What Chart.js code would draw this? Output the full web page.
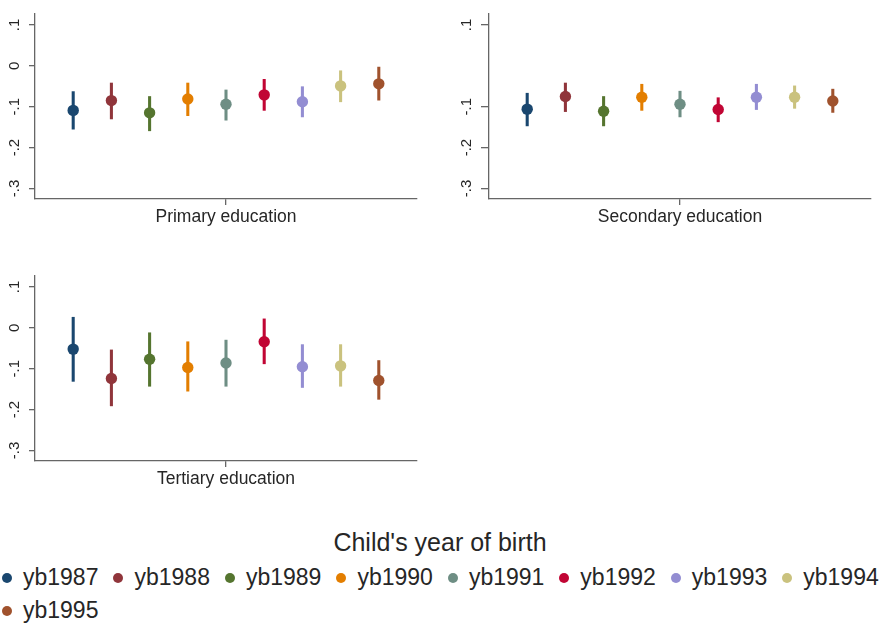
<!DOCTYPE html>
<html>
<head>
<meta charset="utf-8">
<script src="https://cdn.jsdelivr.net/npm/chart.js@4.4.0/dist/chart.umd.min.js"></script>
<style>
  html, body { margin: 0; padding: 0; background: #fff; }
  body { width: 880px; height: 625px; position: relative; overflow: hidden; font-family: "Liberation Sans", Arial, sans-serif; color: #262626; }
  canvas { position: absolute; }
  #legend-title { position: absolute; left: 0; width: 880px; top: 528px; text-align: center; font-size: 25px; line-height: 29px; }
  .legend-row { position: absolute; left: 2px; display: flex; white-space: nowrap; font-size: 23px; line-height: 27px; }
  .legend-item { display: flex; align-items: center; margin-right: 15px; }
  .dot { width: 10px; height: 10px; border-radius: 50%; margin-right: 11px; }
</style>
</head>
<body>
<canvas id="primary" width="440" height="235" style="left:0;top:0"></canvas>
<canvas id="secondary" width="440" height="235" style="left:440px;top:0"></canvas>
<canvas id="tertiary" width="440" height="235" style="left:0;top:262px"></canvas>
<div id="legend-title">Child's year of birth</div>
<div class="legend-row" id="row1" style="top:564px"></div>
<div class="legend-row" id="row2" style="top:597px"></div>

<script>
// ---------- data ----------
const years = ["yb1987", "yb1988", "yb1989", "yb1990", "yb1991", "yb1992", "yb1993", "yb1994", "yb1995"];
const colors = ["#1a476f", "#90353b", "#55752f", "#e37e00", "#6e8e84", "#c10534", "#938dd2", "#cac27e", "#a0522d"];

const primaryEst = [-0.109, -0.085, -0.115, -0.081, -0.094, -0.071, -0.088, -0.049, -0.044];
const primaryLo  = [-0.155, -0.130, -0.159, -0.122, -0.133, -0.109, -0.125, -0.088, -0.084];
const primaryHi  = [-0.063, -0.042, -0.075, -0.042, -0.059, -0.033, -0.051, -0.012, -0.003];

const secondaryEst = [-0.106, -0.075, -0.111, -0.077, -0.094, -0.107, -0.077, -0.077, -0.086];
const secondaryLo  = [-0.147, -0.112, -0.147, -0.109, -0.125, -0.137, -0.107, -0.104, -0.114];
const secondaryHi  = [-0.067, -0.042, -0.075, -0.045, -0.062, -0.078, -0.045, -0.049, -0.057];

const tertiaryEst = [-0.052, -0.124, -0.077, -0.097, -0.086, -0.034, -0.095, -0.093, -0.129];
const tertiaryLo  = [-0.131, -0.191, -0.143, -0.155, -0.143, -0.088, -0.146, -0.143, -0.175];
const tertiaryHi  = [0.026, -0.054, -0.012, -0.034, -0.030, 0.022, -0.041, -0.041, -0.080];

const yTicks = [0.1, 0, -0.1, -0.2, -0.3];
const secondaryYTicks = [0.1, -0.1, -0.2, -0.3]; // the original has no "0" label here

// stata style labels: .1, 0, -.1
const fmt = v => v === 0 ? "0" : v.toFixed(1).replace("0.", ".");

const FONT = "'Liberation Sans', Arial, sans-serif";
const AXIS = "#666";
const TEXT = "#262626";

function makePanel(id, name, est, lo, hi, ticks, axisWidth, tickLen) {
    new Chart(document.getElementById(id), {
        type: "bar",
        data: {
            datasets: [
                {
                    type: "scatter",
                    data: est.map((v, i) => ({ x: i + 1, y: v })),
                    pointRadius: 5.7,
                    pointBackgroundColor: colors,
                    pointBorderWidth: 0
                },
                {
                    type: "bar",
                    data: lo.map((v, i) => ({ x: i + 1, y: [v, hi[i]] })),
                    backgroundColor: colors,
                    barThickness: 2.4,
                    borderWidth: 0
                }
            ]
        },
        options: {
            responsive: false,
            animation: false,
            events: [],
            layout: { padding: { top: 7, right: 440 - axisWidth - 382, left: 0, bottom: 0 } },
            plugins: { legend: { display: false }, tooltip: { enabled: false } },
            scales: {
                x: {
                    type: "linear", min: 0, max: 10, offset: false,
                    afterBuildTicks: s => { s.ticks = [{ value: 5 }]; },
                    afterFit: s => { s.height = 36; },
                    border: { display: true, color: AXIS, width: 1.3 },
                    grid: { offset: false, drawOnChartArea: false, tickLength: 6, color: AXIS, lineWidth: 1.3 },
                    ticks: { callback: () => name, maxRotation: 0, padding: 2, color: TEXT, font: { size: 17.5, family: FONT } }
                },
                y: {
                    min: -0.326, max: 0.127,
                    afterBuildTicks: s => { s.ticks = ticks.map(v => ({ value: v })); },
                    afterFit: s => { s.width = axisWidth; },
                    border: { display: true, color: AXIS, width: 1.3 },
                    grid: { drawOnChartArea: false, tickLength: tickLen, color: AXIS, lineWidth: 1.3 },
                    ticks: {
                        minRotation: 90, maxRotation: 90, crossAlign: "center", padding: 5,
                        color: TEXT, font: { size: 15, family: FONT },
                        callback: v => fmt(v)
                    }
                }
            }
        }
    });
}

makePanel("primary", "Primary education", primaryEst, primaryLo, primaryHi, yTicks, 35, 6);
makePanel("secondary", "Secondary education", secondaryEst, secondaryLo, secondaryHi, secondaryYTicks, 49, 8);
makePanel("tertiary", "Tertiary education", tertiaryEst, tertiaryLo, tertiaryHi, yTicks, 35, 6);

// legend: 8 on the first row (runs off the edge), last one wraps
years.forEach((y, i) => {
    const item = document.createElement("div");
    item.className = "legend-item";
    item.innerHTML = `<span class="dot" style="background:${colors[i]}"></span><span>${y}</span>`;
    document.getElementById(i < 8 ? "row1" : "row2").appendChild(item);
});
</script>
</body>
</html>
